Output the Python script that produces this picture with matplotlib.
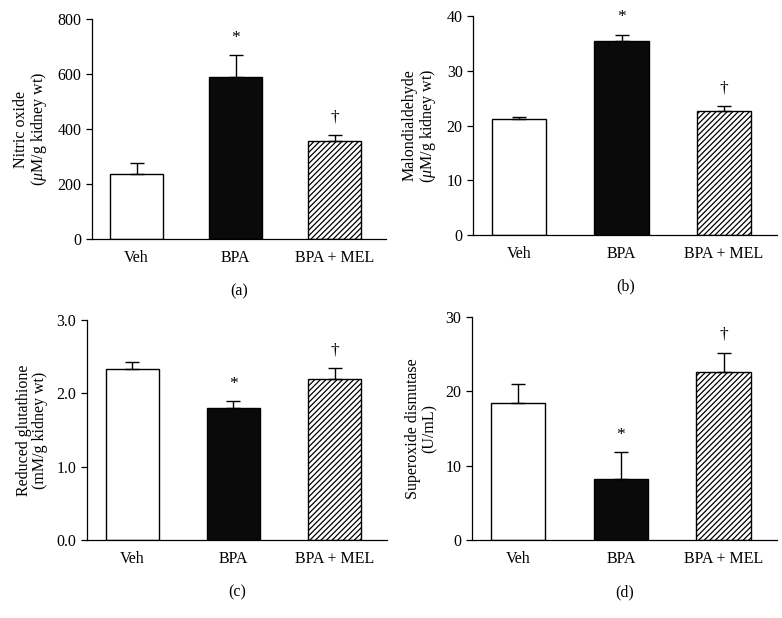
import matplotlib
matplotlib.use("Agg")
import matplotlib.pyplot as plt
import numpy as np

plt.rcParams.update({
    "font.family": ["Liberation Serif", "DejaVu Serif"],
    "mathtext.fontset": "custom",
    "mathtext.rm": "Liberation Serif",
    "mathtext.it": "Liberation Serif:italic",
    "font.size": 11.5,
    "hatch.linewidth": 0.9,
    "axes.linewidth": 0.9,
})

# ── Данные ──────────────────────────────────────────────────────────────
groups = ["Veh", "BPA", "BPA + MEL"]

no_mean = [237, 590, 358]
no_err = [38, 78, 19]

mda_mean = [21.2, 35.5, 22.7]
mda_err = [0.35, 1.0, 0.8]

gsh_mean = [2.33, 1.80, 2.19]
gsh_err = [0.10, 0.09, 0.15]

sod_mean = [18.5, 8.2, 22.6]
sod_err = [2.5, 3.6, 2.6]

marks = ["", "*", "\u2020"]

panels = [
    # (rect, mean, err, ylim, ticks, ticklabels, ylabel, letter)
    ([0.1176, 0.6133, 0.376, 0.3557], no_mean, no_err, 800,
     [0, 200, 400, 600, 800], None,
     "Nitric oxide\n($\\mathit{\\mu}$M/g kidney wt)", "(a)"),
    ([0.605, 0.6197, 0.389, 0.3544], mda_mean, mda_err, 40,
     [0, 10, 20, 30, 40], None,
     "Malondialdehyde\n($\\mathit{\\mu}$M/g kidney wt)", "(b)"),
    ([0.111, 0.1262, 0.384, 0.356], gsh_mean, gsh_err, 3.0,
     [0, 1, 2, 3], ["0.0", "1.0", "2.0", "3.0"],
     "Reduced glutathione\n(mM/g kidney wt)", "(c)"),
    ([0.6036, 0.1262, 0.390, 0.3608], sod_mean, sod_err, 30,
     [0, 10, 20, 30], None,
     "Superoxide dismutase\n(U/mL)", "(d)"),
]

fig = plt.figure(figsize=(7.82, 6.18), dpi=100)

for rect, mean, err, ytop, ticks, tlabels, ylabel, letter in panels:
    ax = fig.add_axes(rect)
    x = np.arange(len(groups))
    styles = [dict(color="white"), dict(color="#0a0a0a"),
              dict(color="white", hatch="//////")]
    for xi, m, st in zip(x, mean, styles):
        ax.bar(xi, m, width=0.53, edgecolor="black", linewidth=1.0, zorder=2, **st)
    ax.errorbar(x, mean, yerr=[np.zeros(len(mean)), err], fmt="none",
                ecolor="black", elinewidth=1.0, capsize=5, capthick=1.0, zorder=3)
    for xi, m, e, mk in zip(x, mean, err, marks):
        if mk:
            ax.annotate(mk, (xi, m + e), xytext=(0, 7), textcoords="offset points",
                        ha="center", va="bottom", fontsize=12.5)

    ax.set_xlim(-0.45, 2.52)
    ax.set_ylim(0, ytop)
    ax.set_yticks(ticks)
    if tlabels:
        ax.set_yticklabels(tlabels)
    ax.set_xticks(x)
    ax.set_xticklabels(groups)
    ax.tick_params(axis="x", length=0, pad=8)
    ax.tick_params(axis="y", direction="out", length=4, width=0.9)
    for side in ("top", "right"):
        ax.spines[side].set_visible(False)
    ax.set_ylabel(ylabel, linespacing=1.05, labelpad=6)
    ax.text(0.5, -0.2, letter, transform=ax.transAxes, ha="center", va="top")

fig.savefig("out.png", dpi=100, facecolor="white")
